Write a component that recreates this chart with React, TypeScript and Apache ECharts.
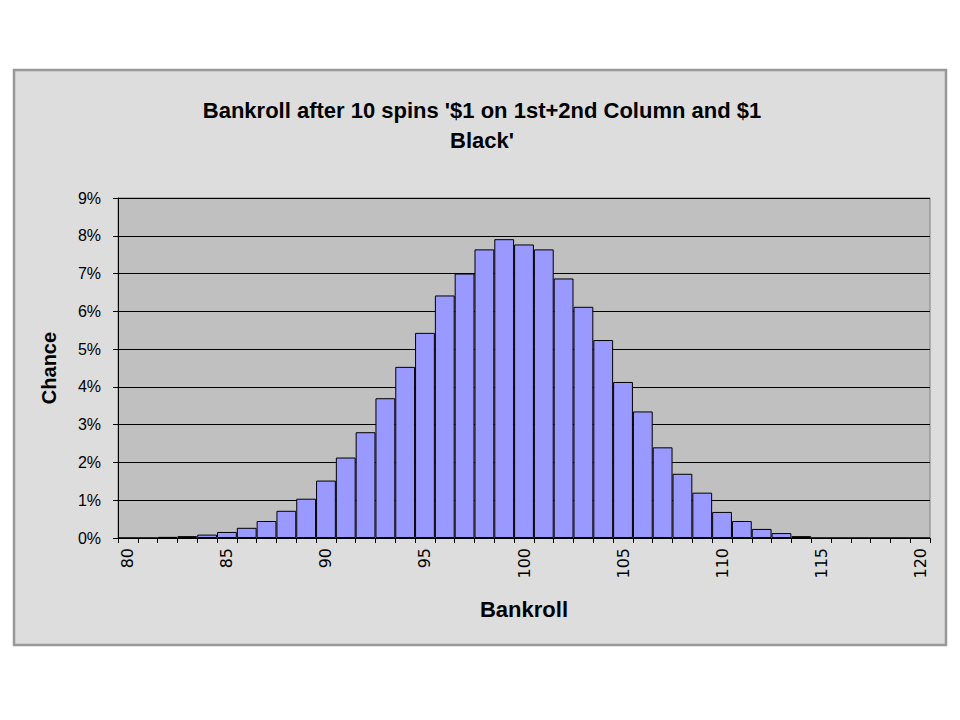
import React, { useEffect, useRef } from "react";
import * as echarts from "echarts";

const titleLines = ["Bankroll after 10 spins '$1 on 1st+2nd Column and $1", "Black'"];
const xAxisName = "Bankroll";
const yAxisName = "Chance";

const bankrollCategories = [
  "80", "81", "82", "83", "84", "85", "86", "87", "88", "89",
  "90", "91", "92", "93", "94", "95", "96", "97", "98", "99",
  "100", "101", "102", "103", "104", "105", "106", "107", "108", "109",
  "110", "111", "112", "113", "114", "115", "116", "117", "118", "119", "120",
];

// chance in percent
const chancePercent = [
  0, 0, 0.03, 0.05, 0.09, 0.16, 0.27, 0.45, 0.72, 1.04,
  1.52, 2.13, 2.8, 3.7, 4.53, 5.43, 6.42, 7.0, 7.64, 7.91,
  7.77, 7.64, 6.87, 6.12, 5.24, 4.13, 3.35, 2.4, 1.7, 1.2,
  0.69, 0.45, 0.24, 0.13, 0.05, 0, 0, 0, 0, 0, 0,
];

const yTickValues = [0, 1, 2, 3, 4, 5, 6, 7, 8, 9];

const FONT = "'Liberation Sans', Arial, sans-serif";

export default function App() {
  const ref = useRef<HTMLDivElement>(null);
  useEffect(() => {
    if (!ref.current) return;
    const chart = echarts.init(ref.current, null, { renderer: "svg" });
    chart.setOption({
      animation: false,
      backgroundColor: "#ffffff",
      graphic: [
        {
          type: "rect",
          z: -100,
          silent: true,
          shape: { x: 14, y: 70, width: 932, height: 575 },
          style: { fill: "#dddddd", stroke: "#999999", lineWidth: 2.5 },
        },
      ],
      title: {
        text: titleLines.join("\n"),
        left: 477,
        textAlign: "center",
        top: 90,
        textStyle: {
          fontFamily: FONT,
          fontSize: 22,
          fontWeight: "bold",
          color: "#000",
          lineHeight: 30,
        },
      },
      grid: {
        left: 118,
        top: 198,
        right: 30,
        bottom: 182,
        show: true,
        backgroundColor: "#c0c0c0",
        borderColor: "#808080",
        borderWidth: 1,
      },
      xAxis: {
        type: "category",
        data: bankrollCategories,
        boundaryGap: true,
        name: xAxisName,
        nameLocation: "middle",
        nameGap: 60,
        nameTextStyle: { fontFamily: FONT, fontSize: 22, fontWeight: "bold", color: "#000" },
        axisLine: { show: true, lineStyle: { color: "#000", width: 1 } },
        axisTick: { show: true, interval: 0, length: 5, inside: false, lineStyle: { color: "#000" } },
        axisLabel: {
          interval: 4,
          rotate: 90,
          margin: 10,
          fontFamily: "'DejaVu Sans', sans-serif",
          fontSize: 16,
          color: "#000",
        },
        splitLine: { show: false },
      },
      yAxis: {
        type: "value",
        min: 0,
        max: 9,
        interval: 1,
        name: yAxisName,
        nameLocation: "middle",
        nameRotate: 90,
        nameGap: 59,
        nameTextStyle: { fontFamily: FONT, fontSize: 20, fontWeight: "bold", color: "#000" },
        axisLine: { show: true, lineStyle: { color: "#000", width: 1 } },
        axisTick: { show: true, length: 5, inside: false, lineStyle: { color: "#000" } },
        axisLabel: {
          margin: 17,
          fontFamily: FONT,
          fontSize: 16,
          color: "#000",
          formatter: (v: number) => (yTickValues.includes(v) ? `${v}%` : ""),
        },
        splitLine: { show: true, lineStyle: { color: "#000", width: 1 } },
      },
      series: [
        {
          type: "bar",
          data: chancePercent,
          barCategoryGap: "0%",
          itemStyle: { color: "#9999ff", borderColor: "#000", borderWidth: 1 },
        },
      ],
    });
    return () => chart.dispose();
  }, []);
  return (
    <div
      ref={ref}
      style={{ position: "fixed", left: 0, top: 0, width: 960, height: 720 }}
    />
  );
}
